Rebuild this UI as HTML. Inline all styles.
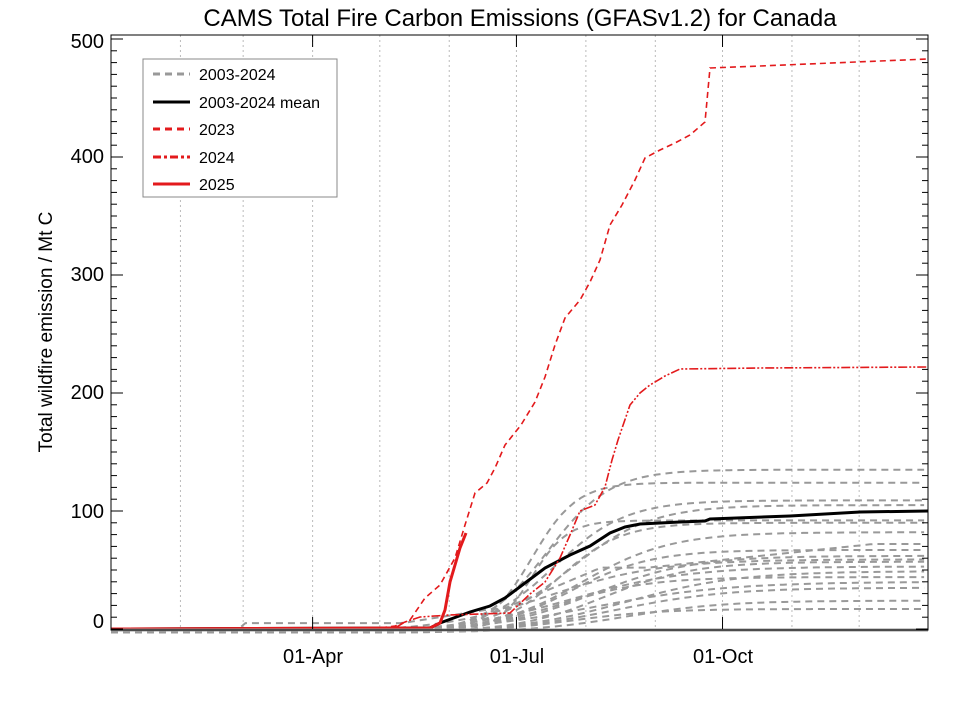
<!DOCTYPE html>
<html><head><meta charset="utf-8"><style>
html,body{margin:0;padding:0;background:#fff}
svg{display:block;font-family:"Liberation Sans",sans-serif}
</style></head><body>
<svg id="s" width="960" height="702" viewBox="0 0 960 702" xmlns="http://www.w3.org/2000/svg">
<rect width="960" height="702" fill="#fff"/>
<text x="520" y="26" font-size="24" text-anchor="middle">CAMS Total Fire Carbon Emissions (GFASv1.2) for Canada</text>
<text transform="translate(52,332) rotate(-90)" font-size="19" text-anchor="middle">Total wildfire emission / Mt C</text>
<g id="grid" stroke="#bbb" stroke-width="1" stroke-dasharray="2,3"></g>
<g id="gray" fill="none" stroke="#999" stroke-width="2" stroke-dasharray="7,5"></g>
<polyline fill="none" stroke="#000" stroke-width="3" points="111,629 430,628 440,623 470,612 490,606 505,598 525,583 545,568 570,555 590,546 610,533 625,527 640,524 680,522 705,521 710,519 790,516 860,512 928,511"/>
<polyline fill="none" stroke="#e31a1c" stroke-width="1.6" stroke-dasharray="9,2,2,2,2,2" points="111,629 395,628 405,622 420,617 450,615 480,614 510,613 530,594 545,582 560,558 570,535 580,511 595,505 605,487 612,460 618,440 630,405 640,393 650,385 665,376 680,369 760,368 928,367"/>
<polyline fill="none" stroke="#e31a1c" stroke-width="1.6" stroke-dasharray="6,4" points="111,629 380,628 395,626 410,620 425,598 440,585 455,558 465,525 475,493 487,483 495,468 505,445 521,425 535,402 545,377 555,345 565,318 580,300 590,282 600,260 610,225 622,205 635,180 645,158 660,150 675,143 690,135 705,122 710,68 760,66 928,59"/>
<polyline fill="none" stroke="#e31a1c" stroke-width="3" points="111,629 430,628 440,623 445,610 450,582 455,565 460,548 466,533"/>
<line x1="111" y1="630" x2="928" y2="630" stroke="#999" stroke-width="3"/>
<rect x="111" y="35" width="817" height="595" fill="none" stroke="#000" stroke-width="1"/>
<g id="ticks" stroke="#000" stroke-width="1"></g>
<g font-size="20" text-anchor="end">
<text x="104" y="628">0</text><text x="104" y="518">100</text><text x="104" y="399">200</text><text x="104" y="281">300</text><text x="104" y="163">400</text><text x="104" y="48">500</text>
</g>
<g font-size="20" text-anchor="middle">
<text x="313" y="663">01-Apr</text><text x="517" y="663">01-Jul</text><text x="723" y="663">01-Oct</text>
</g>
<rect x="143" y="59" width="194" height="138" fill="#fff" stroke="#888" stroke-width="1"/>
<g font-size="16">
<line x1="153" y1="74" x2="190" y2="74" stroke="#999" stroke-width="3" stroke-dasharray="7,5"/><text x="199" y="80">2003-2024</text>
<line x1="153" y1="102" x2="190" y2="102" stroke="#000" stroke-width="3"/><text x="199" y="108">2003-2024 mean</text>
<line x1="153" y1="129" x2="190" y2="129" stroke="#e31a1c" stroke-width="3" stroke-dasharray="7,5"/><text x="199" y="135">2023</text>
<line x1="153" y1="157" x2="190" y2="157" stroke="#e31a1c" stroke-width="3" stroke-dasharray="8,3,3,3"/><text x="199" y="163">2024</text>
<line x1="153" y1="184" x2="190" y2="184" stroke="#e31a1c" stroke-width="3"/><text x="199" y="190">2025</text>
</g>
</svg>
<script>
var NS="http://www.w3.org/2000/svg";
function el(p,t,a){var e=document.createElementNS(NS,t);for(var k in a)e.setAttribute(k,a[k]);document.getElementById(p).appendChild(e);return e;}
function X(d){return 111+d*2.24;}
function Y(v){return 629-v*1.18;}
[31,59,90,120,151,181,212,243,273,304,334].forEach(function(d){el("grid","line",{x1:X(d),y1:35,x2:X(d),y2:629});});
for(var v=0;v<=500;v+=10){var big=v%100==0;el("ticks","line",{x1:111,y1:Y(v),x2:111+(big?12:6),y2:Y(v)});el("ticks","line",{x1:928,y1:Y(v),x2:928-(big?12:6),y2:Y(v)});}
[90,181,273].forEach(function(d){el("ticks","line",{x1:X(d),y1:629,x2:X(d),y2:617});el("ticks","line",{x1:X(d),y1:35,x2:X(d),y2:47});});
var L=[[138,195,14],[127,188,10],[112,198,16],[108,205,18],[95,188,8],[93,200,14],[85,210,20],[70,205,18],[65,215,22],[62,195,25],[60,220,20],[56,205,26],[52,230,25],[47,200,20],[43,215,30],[38,225,25],[27,230,22],[20,205,20]];
L.forEach(function(p){var pts=[];for(var d=0;d<=364;d+=3){var v=p[0]/(1+Math.exp(-(d-p[1])/p[2]));v=v-p[0]/(1+Math.exp(p[1]/p[2]));pts.push(X(d).toFixed(1)+","+Y(Math.max(v,0)-3).toFixed(1));}el("gray","polyline",{points:pts.join(" ")});});
var pts=[];for(var d=0;d<=364;d+=3){var v=d<55?0:(d<60?(d-55)*1.6:8)+(d>130?Math.min(12,(d-130)*0.3):0)+(d>175?Math.min(35,(d-175)*0.8):0)+(d>240?Math.min(20,(d-240)*0.2):0);pts.push(X(d).toFixed(1)+","+Y(v-3).toFixed(1));}
el("gray","polyline",{points:pts.join(" ")});
</script>
</body></html>
